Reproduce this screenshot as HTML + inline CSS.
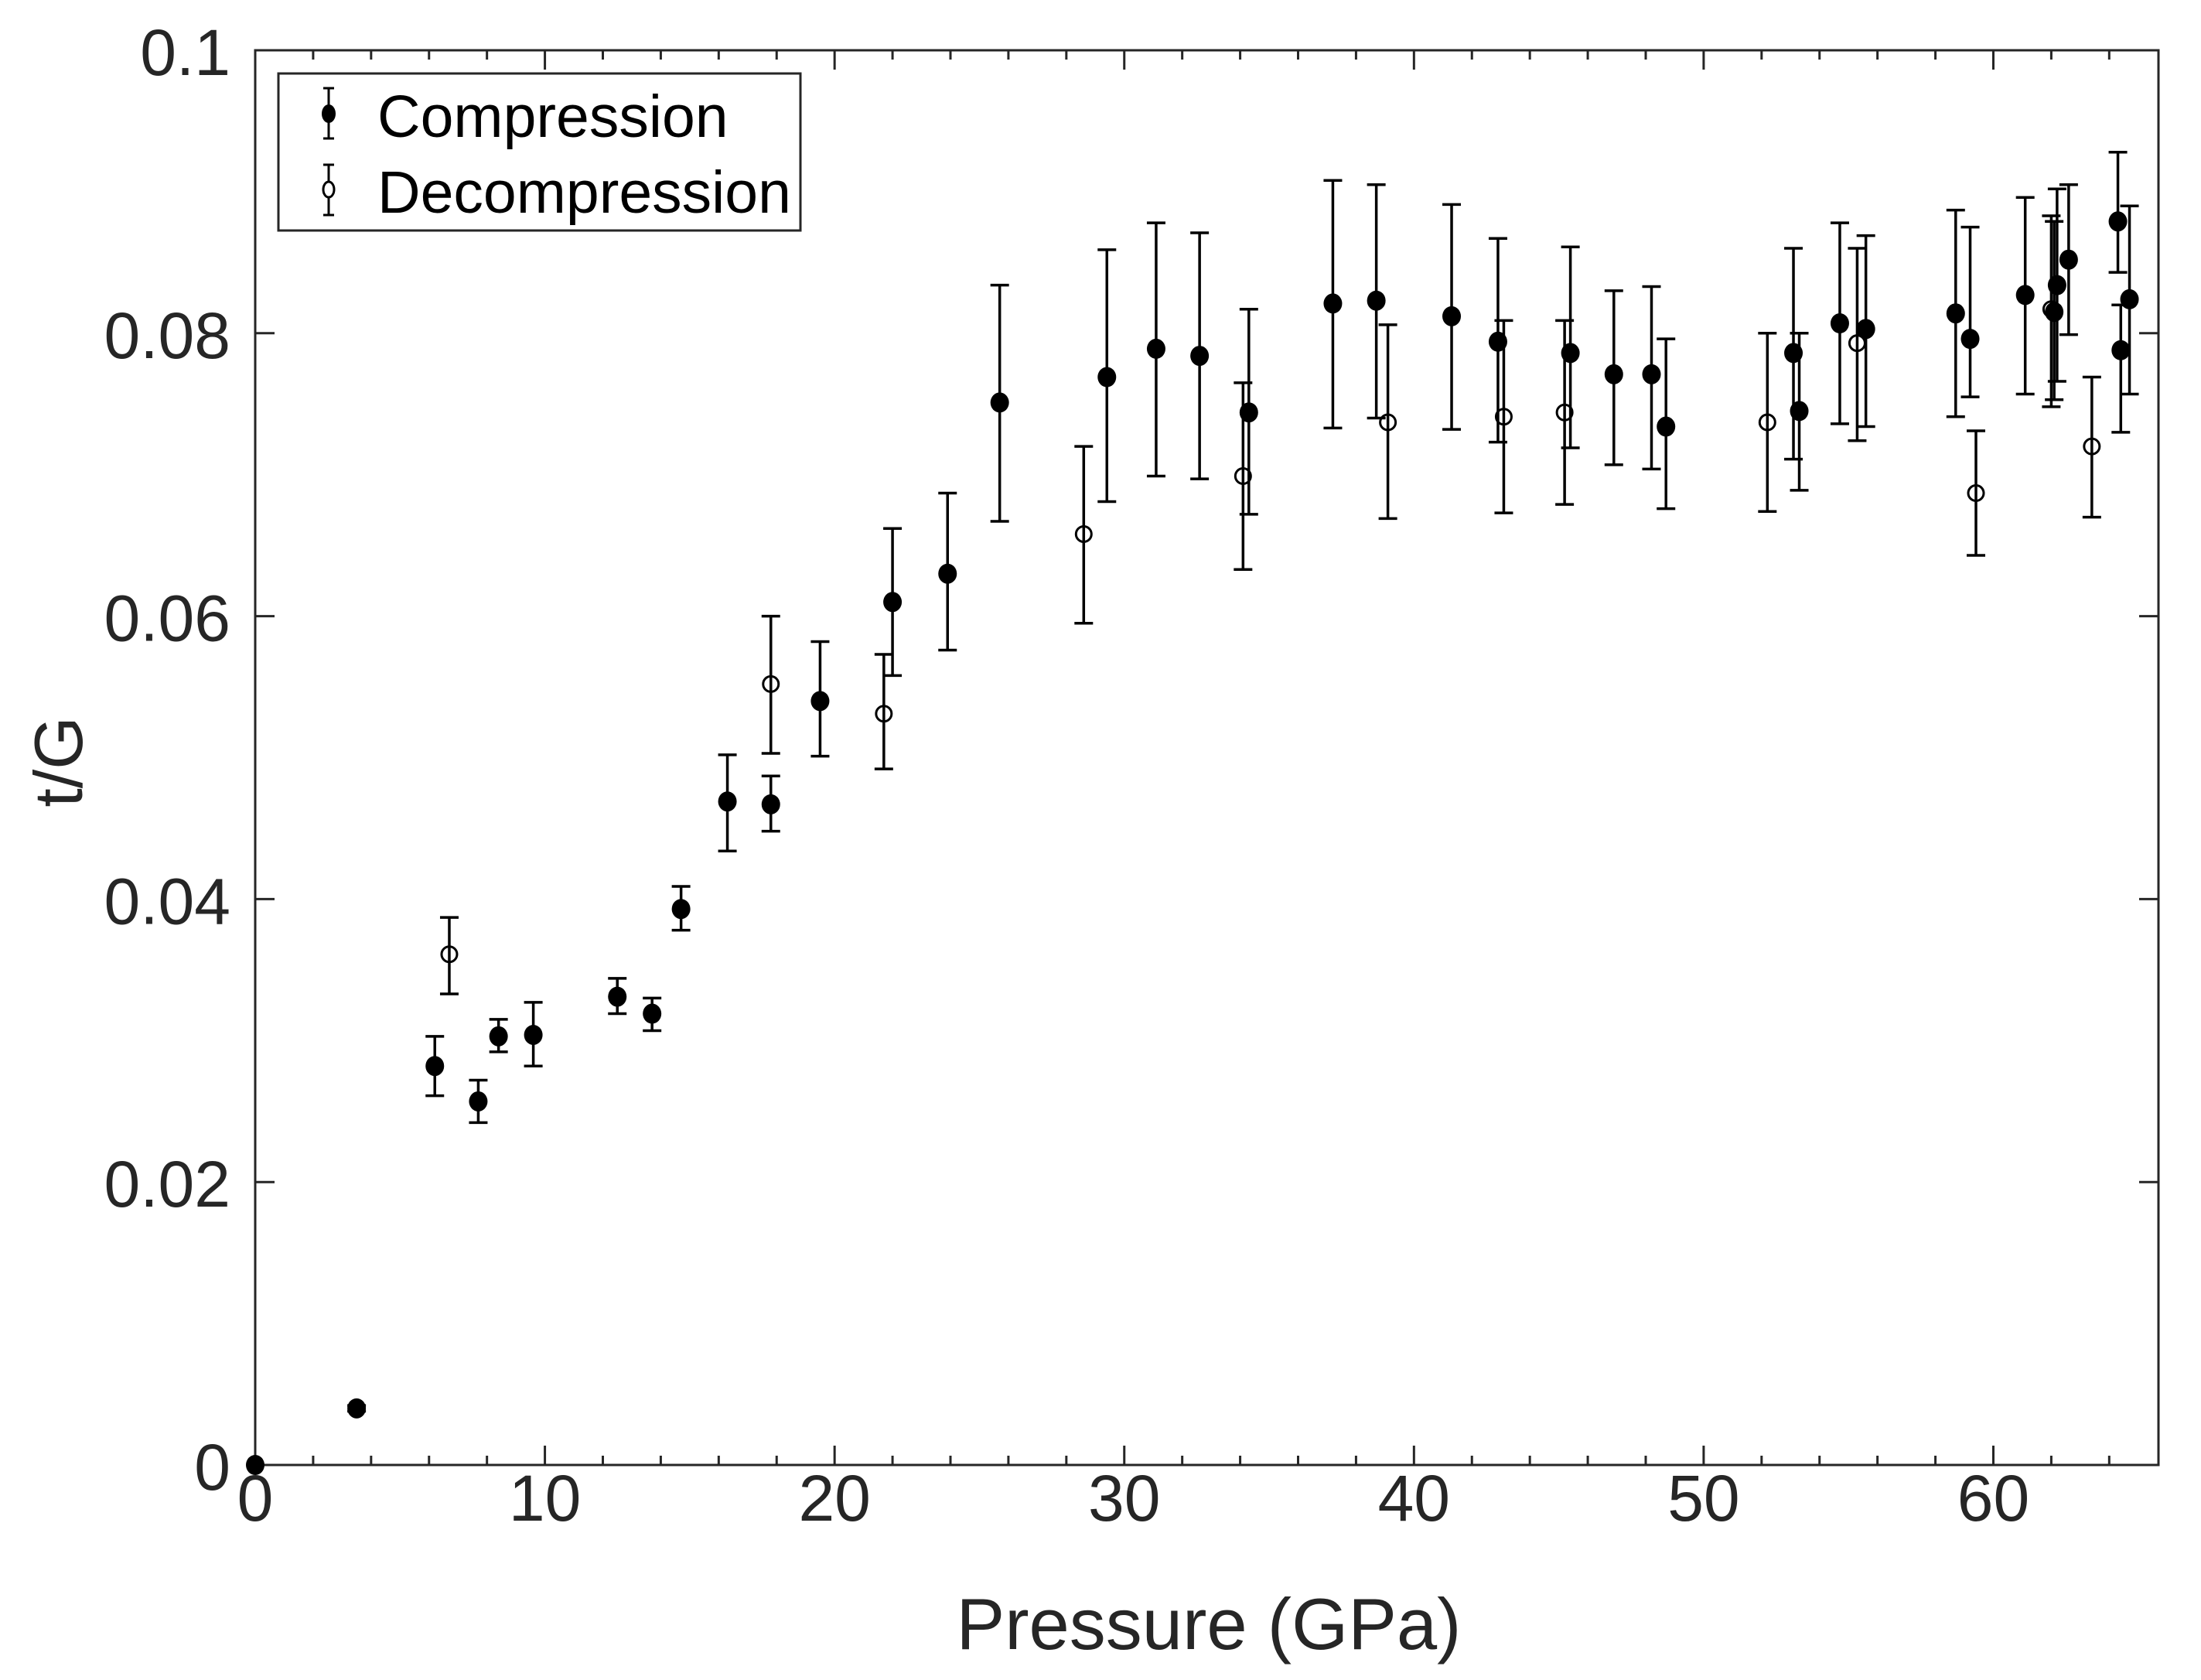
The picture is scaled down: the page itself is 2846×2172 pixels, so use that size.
<!DOCTYPE html>
<html><head><meta charset="utf-8"><style>
html,body{margin:0;padding:0;background:#fff;}
svg{display:block;font-family:"Liberation Sans",Arial,sans-serif;}
</style></head>
<body>
<svg id="chart" width="2846" height="2172" viewBox="0 0 2846 2172" xmlns="http://www.w3.org/2000/svg">
<rect x="0" y="0" width="2846" height="2172" fill="#fff"/>
<g id="axes"></g>
<g id="marks"></g>
<text x="1563" y="2132" font-size="94" text-anchor="middle" fill="#262626">Pressure (GPa)</text>
<text x="0" y="0" font-size="88" text-anchor="middle" fill="#262626" transform="translate(106,985) rotate(-90)">t/G</text>
<g>
<rect x="360" y="95" width="675" height="203" fill="#fff" stroke="#262626" stroke-width="3"/>
<g>
<line x1="425" y1="114" x2="425" y2="179" stroke="#000" stroke-width="3"/>
<line x1="418" y1="114" x2="432" y2="114" stroke="#000" stroke-width="3"/>
<line x1="418" y1="179" x2="432" y2="179" stroke="#000" stroke-width="3"/>
<ellipse cx="425" cy="147" rx="9" ry="12" fill="#000"/>
<text x="488" y="177" font-size="77" fill="#000">Compression</text>
</g>
<g>
<line x1="425" y1="213" x2="425" y2="278" stroke="#000" stroke-width="3"/>
<line x1="418" y1="213" x2="432" y2="213" stroke="#000" stroke-width="3"/>
<line x1="418" y1="278" x2="432" y2="278" stroke="#000" stroke-width="3"/>
<ellipse cx="425" cy="245" rx="7" ry="10" fill="#fff" stroke="#000" stroke-width="3"/>
<text x="488" y="275" font-size="77" fill="#000">Decompression</text>
</g>
</g>
</svg>
<script>
const compX = [0,3.5,6.2,7.7,8.4,9.6,12.5,13.7,14.7,16.3,17.8,19.5,22.0,23.9,25.7,29.4,31.1,32.6,34.3,37.2,38.7,41.3,42.9,45.4,46.9,48.2,48.7,53.1,53.3,54.7,55.6,58.7,59.2,61.1,62.1,62.2,62.6,64.3,64.4,64.7];
const compY = [0,.0040,.0282,.0257,.0303,.0304,.0331,.0319,.0393,.0469,.0467,.0540,.0610,.0630,.0751,.0769,.0789,.0784,.0744,.0821,.0823,.0812,.0794,.0786,.0771,.0771,.0734,.0786,.0745,.0807,.0803,.0814,.0796,.0827,.0815,.0834,.0852,.0879,.0788,.0824];
const compLo = [0,.0038,.0261,.0242,.0292,.0282,.0319,.0307,.0378,.0434,.0448,.0501,.0558,.0576,.0667,.0681,.0699,.0697,.0672,.0733,.0740,.0732,.0723,.0719,.0707,.0704,.0676,.0711,.0689,.0736,.0734,.0741,.0755,.0757,.0753,.0766,.0799,.0843,.0730,.0757];
const compHi = [0,.0042,.0303,.0272,.0315,.0327,.0344,.0330,.0409,.0502,.0487,.0582,.0662,.0687,.0834,.0859,.0878,.0871,.0817,.0908,.0905,.0891,.0867,.0861,.0830,.0833,.0796,.0860,.0800,.0878,.0869,.0887,.0875,.0896,.0879,.0902,.0905,.0928,.0820,.0890];
const decX = [6.7,17.8,21.7,28.6,34.1,39.1,43.1,45.2,52.2,55.3,59.4,62.0,63.4];
const decY = [.0361,.0552,.0531,.0658,.0699,.0737,.0741,.0744,.0737,.0793,.0687,.0817,.0720];
const decLo = [.0333,.0503,.0492,.0595,.0633,.0669,.0673,.0679,.0674,.0724,.0643,.0748,.0670];
const decHi = [.0387,.0600,.0573,.0720,.0765,.0806,.0809,.0809,.0800,.0860,.0731,.0883,.0769];
const xTicks = [0,10,20,30,40,50,60];
const xTickLabels = ["0","10","20","30","40","50","60"];
const yTicks = [0,0.02,0.04,0.06,0.08,0.1];
const yTickLabels = ["0","0.02","0.04","0.06","0.08","0.1"];

const L=330,R=2791,T=65,B=1894,XMAX=65.7,YMAX=0.1;
function X(v){return L+v*(R-L)/XMAX;}
function Y(v){return B-v*(B-T)/YMAX;}
const NS="http://www.w3.org/2000/svg";
function mk(tag,attrs,parent){const e=document.createElementNS(NS,tag);for(const k in attrs)e.setAttribute(k,attrs[k]);parent.appendChild(e);return e;}
const axes=document.getElementById('axes');
const marks=document.getElementById('marks');

const frame=mk('rect',{x:L,y:T,width:R-L,height:B-T,fill:'none',stroke:'#262626','stroke-width':3},axes);



for(let v=0;v<=XMAX;v+=2){
  const major=(v%10===0);const len=major?25:12;
  const t1=mk('line',{x1:X(v),y1:B,x2:X(v),y2:B-len,stroke:'#262626','stroke-width':3},axes);
  
  
  const t2=mk('line',{x1:X(v),y1:T,x2:X(v),y2:T+len,stroke:'#262626','stroke-width':3},axes);
  
  
}
xTicks.forEach((v,i)=>{
  const t=mk('text',{x:X(v),y:1966,'font-size':84,'text-anchor':'middle',fill:'#262626'},axes);
  t.textContent=xTickLabels[i];
  
  
});
yTicks.forEach((v,i)=>{
  const a=mk('line',{x1:L,y1:Y(v),x2:L+25,y2:Y(v),stroke:'#262626','stroke-width':3},axes);
  
  
  const b=mk('line',{x1:R,y1:Y(v),x2:R-25,y2:Y(v),stroke:'#262626','stroke-width':3},axes);
  
  
  const t=mk('text',{x:298,y:Y(v)+32,'font-size':84,'text-anchor':'end',fill:'#262626'},axes);
  t.textContent=yTickLabels[i];
  
  
});

function errbar(x,y,lo,hi,filled,name){
  const g=mk('g',{},marks);
  
  
  if(hi-lo>0.0001){
    mk('line',{x1:X(x),y1:Y(hi),x2:X(x),y2:Y(lo),stroke:'#000','stroke-width':3.5},g);
    mk('line',{x1:X(x)-12,y1:Y(hi),x2:X(x)+12,y2:Y(hi),stroke:'#000','stroke-width':3.5},g);
    mk('line',{x1:X(x)-12,y1:Y(lo),x2:X(x)+12,y2:Y(lo),stroke:'#000','stroke-width':3.5},g);
  }
  if(filled) mk('ellipse',{cx:X(x),cy:Y(y),rx:12,ry:13,fill:'#000'},g);
  else mk('circle',{cx:X(x),cy:Y(y),r:10,fill:'none',stroke:'#000','stroke-width':3},g);
}
decX.forEach((x,i)=>errbar(x,decY[i],decLo[i],decHi[i],false,'decompression-point'));
compX.forEach((x,i)=>errbar(x,compY[i],compLo[i],compHi[i],true,'compression-point'));
</script>
</body></html>
